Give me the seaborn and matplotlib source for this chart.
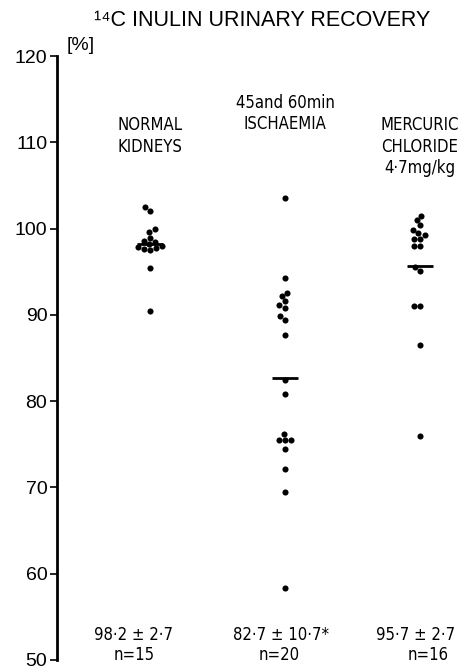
import pandas as pd
import seaborn as sns
import matplotlib.pyplot as plt
from matplotlib import font_manager

# --- values ---
groupes = ["NORMAL\nKIDNEYS", "45and 60min\nISCHAEMIA", "MERCURIC\nCHLORIDE\n4·7mg/kg"]
normal = [102.5, 102.0, 99.9, 99.6, 98.9, 98.6, 98.4, 98.2, 98.0, 97.9, 97.7, 97.6, 97.5, 95.4, 90.5]
ischemie = [103.6, 94.3, 92.5, 92.2, 91.6, 91.1, 90.8, 89.9, 89.4, 87.7, 82.5, 80.8,
            76.2, 75.5, 75.5, 75.5, 74.4, 72.1, 69.5, 58.3]
mercure = [101.5, 101.0, 100.4, 99.8, 99.5, 99.3, 98.8, 98.8, 98.0, 98.0, 95.6, 95.1,
           91.0, 91.0, 86.5, 76.0]
moyennes = [98.2, 82.7, 95.7]
stats_moy = ["98·2 ± 2·7", "82·7 ± 10·7*", "95·7 ± 2·7"]
stats_n = ["n=15", "n=20", "n=16"]
yticks = [50, 60, 70, 80, 90, 100, 110, 120]

df = pd.DataFrame({
    "groupe": [groupes[0]] * len(normal) + [groupes[1]] * len(ischemie) + [groupes[2]] * len(mercure),
    "valeur": normal + ischemie + mercure,
})
df["groupe"] = pd.Categorical(df["groupe"], categories=groupes, ordered=True)

sns.set_style("white")
plt.rcParams["font.family"] = ["Liberation Sans", "DejaVu Sans"]
plt.rcParams["text.color"] = "black"
plt.rcParams["ytick.color"] = "black"

# police étroite si disponible
noms = {f.name for f in font_manager.fontManager.ttflist}
if "DejaVu Sans Condensed" in noms:
    narrow = ["DejaVu Sans Condensed"]
else:
    narrow = ["DejaVu Sans"]
stretch = "condensed"

fig = plt.figure(figsize=(4.67, 6.72), dpi=100)
ax = fig.add_axes([57 / 467, 12 / 672, 410 / 467, 604 / 672])

sns.swarmplot(data=df, x="groupe", y="valeur", order=groupes, color="black",
              size=4.4, ax=ax, linewidth=0)

# barres des moyennes
for i, m in enumerate(moyennes):
    ax.hlines(m, i - 0.095, i + 0.095, color="black", lw=2)

ax.set_xlim(-0.689, 2.348)
ax.set_ylim(50, 120)
ax.set_yticks(yticks)
ax.set_yticklabels([str(t) for t in yticks], fontsize=14)
ax.tick_params(axis="y", direction="out", length=5, width=1.2, pad=2, left=True)
ax.set_xticks([])
ax.set_xlabel("")
ax.set_ylabel("")
for s in ["top", "right", "bottom"]:
    ax.spines[s].set_visible(False)
ax.spines["left"].set_linewidth(2)
ax.spines["left"].set_color("black")

# étiquettes des groupes et statistiques
label_tops = [113.0, 115.6, 113.0]
decal_moy = [-0.12, -0.03, -0.03]
decal_n = [-0.12, -0.04, 0.06]
for i, g in enumerate(groupes):
    ax.text(i, label_tops[i], g, ha="center", va="top", fontsize=12,
            family=narrow, fontstretch=stretch, linespacing=1.25)
    ax.text(i + decal_moy[i], 52.9, stats_moy[i], ha="center", va="center",
            fontsize=12, family=narrow, fontstretch=stretch)
    ax.text(i + decal_n[i], 50.6, stats_n[i], ha="center", va="center",
            fontsize=12, family=narrow, fontstretch=stretch)

fig.text(262 / 467, 1 - 20 / 672, "¹⁴C INULIN URINARY RECOVERY", ha="center",
         va="center", fontsize=15.5)
fig.text(67 / 467, 1 - 45 / 672, "[%]", ha="left", va="center", fontsize=14)

fig.savefig("out.png", dpi=100)
